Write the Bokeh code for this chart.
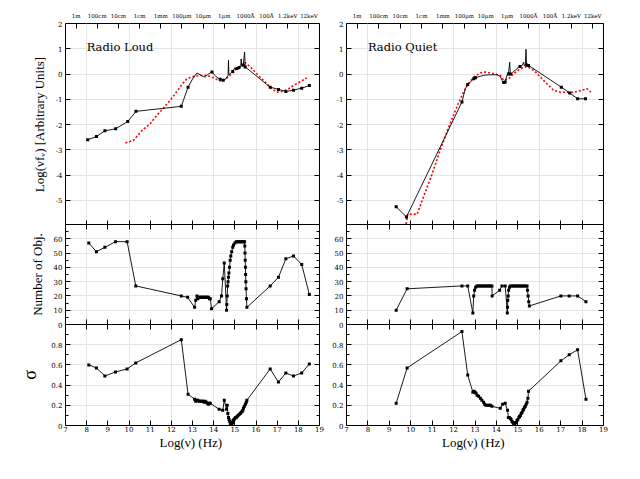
from bokeh.plotting import figure
from bokeh.layouts import row, column
from bokeh.models import LinearAxis, FixedTicker, Range1d, Label, CustomJSTickFormatter
from bokeh.embed import file_html
from bokeh.resources import INLINE

# ---------------- data ----------------
# Radio Loud SED (black, mean) and template (red dotted)
rl_sed_x = [8.05, 8.46, 8.86, 9.37, 9.94, 10.33, 12.47, 12.79, 13.00, 13.21, 13.41, 13.50, 13.60, 13.75,
            13.92, 14.10, 14.31, 14.45, 14.55, 14.68, 14.70, 14.72, 14.78, 14.90, 15.00, 15.02, 15.10, 15.20,
            15.28, 15.30, 15.33, 15.40, 15.46, 15.49, 16.67, 17.06, 17.41, 17.77, 18.16, 18.52]
rl_sed_y = [-2.60, -2.48, -2.25, -2.17, -1.88, -1.48, -1.28, -0.52, -0.20, 0.04, -0.05, -0.10, -0.12, 0.00,
            0.08, -0.10, -0.21, -0.25, -0.22, -0.05, 0.54, -0.02, 0.01, 0.10, 0.25, 0.18, 0.22, 0.26,
            0.30, 0.60, 0.30, 0.35, 0.87, 0.28, -0.52, -0.61, -0.69, -0.64, -0.56, -0.46]
rl_sed_mk = [8.05, 8.46, 8.86, 9.37, 9.94, 10.33, 12.47, 12.79, 13.92, 14.31, 14.45, 14.90, 15.10, 15.20,
             15.40, 15.49, 16.67, 17.06, 17.41, 17.77, 18.16, 18.52]
rl_tpl_x = [9.83, 10.22, 10.60, 11.00, 11.30, 11.64, 12.00, 12.30, 12.50, 12.70, 12.86, 13.13, 13.40, 13.68,
            13.99, 14.20, 14.39, 14.60, 14.78, 15.10, 15.35, 15.49, 15.70, 15.88, 16.10, 16.35, 16.70, 16.98,
            17.30, 17.55, 17.77, 18.10, 18.40]
rl_tpl_y = [-2.73, -2.62, -2.25, -1.97, -1.65, -1.34, -0.98, -0.65, -0.41, -0.22, -0.15, -0.08, -0.06, -0.05,
            -0.15, -0.24, -0.28, -0.17, -0.05, 0.21, 0.40, 0.45, 0.30, 0.15, -0.05, -0.25, -0.55, -0.72,
            -0.68, -0.58, -0.45, -0.30, -0.16]

# Radio Quiet SED
rq_sed_x = [9.32, 9.80, 12.39, 12.55, 12.66, 12.80, 12.94, 13.02, 13.25, 13.40, 13.72, 14.03, 14.18, 14.26,
            14.34, 14.41, 14.49, 14.56, 14.62, 14.65, 14.73, 14.80, 14.96, 15.03, 15.10, 15.20, 15.27, 15.30,
            15.35, 15.38, 15.41, 15.50, 17.03, 17.42, 17.79, 18.16]
rq_sed_y = [-5.26, -5.66, -1.11, -0.58, -0.42, -0.30, -0.19, -0.15, -0.09, -0.05, -0.03, -0.03, -0.10, -0.25,
            -0.34, -0.32, -0.05, 0.00, 0.47, 0.00, 0.02, 0.10, 0.20, 0.28, 0.30, 0.33, 0.47, 0.33,
            0.36, 0.98, 0.36, 0.34, -0.52, -0.75, -0.98, -0.98]
rq_sed_mk = [9.32, 9.80, 12.39, 12.66, 12.94, 13.02, 14.34, 14.41, 14.56, 14.65, 15.10, 15.41, 15.50,
             17.03, 17.42, 17.79, 18.16]
rq_tpl_x = [9.75, 9.86, 10.30, 10.60, 11.00, 11.38, 11.80, 12.20, 12.45, 12.63, 12.94, 13.25, 13.48, 13.87,
            14.18, 14.34, 14.57, 14.80, 15.11, 15.43, 15.74, 16.20, 16.67, 16.98, 17.60, 17.99, 18.22, 18.41]
rq_tpl_y = [-6.10, -5.55, -5.55, -4.85, -3.95, -3.00, -2.05, -1.20, -0.75, -0.45, -0.12, 0.04, 0.08, 0.01,
            -0.05, -0.25, -0.19, 0.01, 0.21, 0.30, 0.15, -0.25, -0.65, -0.72, -0.72, -0.65, -0.58, -0.72]

# Number of objects
rl_n_x = [8.10, 8.46, 8.86, 9.36, 9.91, 10.32, 12.47, 12.77, 13.10, 13.15, 13.21, 13.25, 13.30, 13.35, 13.40,
          13.45, 13.50, 13.55, 13.60, 13.65, 13.70, 13.75, 13.80, 13.84, 13.90, 14.26, 14.37, 14.43, 14.50,
          14.61, 14.62, 14.64, 14.66, 14.68, 14.70, 14.72, 14.75, 14.78, 14.81, 14.85, 14.90, 14.94, 15.00,
          15.07, 15.12, 15.17, 15.22, 15.27, 15.32, 15.37, 15.42, 15.46, 15.47, 15.48, 15.49, 15.50, 15.51,
          15.52, 15.53, 15.55, 15.57, 16.67, 17.06, 17.41, 17.77, 18.16, 18.52]
rl_n_y = [57, 51, 54, 58, 58, 27, 20, 19, 12, 17, 20, 18, 19, 19, 19,
          19, 19, 19, 19, 19, 19, 19, 18, 18, 11, 16, 20, 32, 43,
          10, 14, 20, 27, 30, 33, 36, 40, 45, 48, 51, 54, 55.6, 57,
          58, 58, 58, 58, 58, 58, 58, 58, 58, 55, 50, 45, 40, 35,
          30, 25, 18, 12, 27, 33, 46, 48, 42, 21]
rq_n_x = [9.32, 9.83, 12.39, 12.66, 12.90, 12.94, 12.98, 13.03, 13.09, 13.16, 13.23, 13.30, 13.37, 13.44, 13.51,
          13.58, 13.65, 13.72, 13.79, 13.80, 14.15, 14.26, 14.41, 14.51, 14.52, 14.53, 14.55, 14.57, 14.61,
          14.65, 14.72, 14.79, 14.86, 14.93, 15.00, 15.07, 15.14, 15.21, 15.28, 15.35, 15.43, 15.45, 15.48,
          15.51, 15.54, 17.01, 17.40, 17.79, 18.18]
rq_n_y = [10, 25, 27, 27, 8, 20, 24, 26, 27, 27, 27, 27, 27, 27, 27,
          27, 27, 27, 27, 20, 24, 27, 27, 8, 12, 17, 20, 24, 26,
          27, 27, 27, 27, 27, 27, 27, 27, 27, 27, 27, 27, 24, 20,
          16, 13, 20, 20, 20, 16]

# Dispersion sigma
rl_s_x = [8.10, 8.46, 8.86, 9.36, 9.91, 10.32, 12.47, 12.79, 13.10, 13.15, 13.20, 13.25, 13.30, 13.35, 13.40,
          13.45, 13.50, 13.55, 13.60, 13.65, 13.70, 13.75, 13.80, 13.84, 14.26, 14.43, 14.50, 14.61, 14.64,
          14.67, 14.70, 14.73, 14.76, 14.79, 14.82, 14.84, 14.86, 14.89, 14.92, 14.96, 15.00, 15.04, 15.07,
          15.11, 15.15, 15.20, 15.26, 15.30, 15.35, 15.38, 15.41, 15.45, 15.50, 15.54, 15.57,
          16.67, 17.06, 17.41, 17.77, 18.16, 18.52]
rl_s_y = [0.60, 0.57, 0.49, 0.53, 0.56, 0.62, 0.85, 0.31, 0.26, 0.24, 0.25, 0.25, 0.24, 0.24, 0.24,
          0.24, 0.24, 0.23, 0.24, 0.23, 0.22, 0.21, 0.22, 0.22, 0.16, 0.15, 0.25, 0.16, 0.20,
          0.12, 0.08, 0.06, 0.04, 0.02, 0.01, 0.02, 0.00, 0.03, 0.05, 0.06, 0.07, 0.08, 0.08,
          0.09, 0.10, 0.11, 0.12, 0.13, 0.14, 0.15, 0.17, 0.19, 0.21, 0.23, 0.25,
          0.56, 0.43, 0.52, 0.49, 0.52, 0.61]
rq_s_x = [9.32, 9.83, 12.39, 12.66, 12.90, 12.95, 13.00, 13.05, 13.10, 13.17, 13.25, 13.32, 13.40, 13.45, 13.51,
          13.58, 13.65, 13.72, 13.79, 14.18, 14.29, 14.41, 14.52, 14.56, 14.60, 14.65, 14.69, 14.73, 14.77,
          14.81, 14.84, 14.86, 14.90, 14.96, 15.00, 15.05, 15.08, 15.12, 15.16, 15.20, 15.24, 15.27, 15.31,
          15.35, 15.39, 15.43, 15.47, 15.50, 17.01, 17.40, 17.79, 18.18]
rq_s_y = [0.22, 0.57, 0.93, 0.50, 0.33, 0.34, 0.33, 0.32, 0.30, 0.29, 0.27, 0.25, 0.23, 0.21, 0.20,
          0.20, 0.20, 0.20, 0.19, 0.17, 0.21, 0.22, 0.15, 0.08, 0.08, 0.07, 0.06, 0.04, 0.03,
          0.02, 0.01, 0.00, 0.03, 0.05, 0.06, 0.08, 0.09, 0.10, 0.12, 0.13, 0.15, 0.16, 0.18,
          0.19, 0.21, 0.23, 0.27, 0.34, 0.64, 0.70, 0.75, 0.26]

x_ticks = list(range(7, 20))
top_ticks = [7.5, 8.5, 9.5, 10.5, 11.5, 12.5, 13.5, 14.5, 15.5, 16.5, 17.5, 18.5]
top_labels = ["1m", "100cm", "10cm", "1cm", "1mm", "100\u03bcm", "10\u03bcm", "1\u03bcm",
              "1000\u00c5", "100\u00c5", "1.2keV", "12keV"]
sed_ticks = [-5, -4, -3, -2, -1, 0, 1, 2]
n_ticks = [0, 10, 20, 30, 40, 50, 60]
n_minor = [5, 15, 25, 35, 45, 55, 65]
s_ticks = [0, 0.2, 0.4, 0.6, 0.8]
s_minor = [0.1, 0.3, 0.5, 0.7, 0.9]

# ---------------- styling helpers ----------------
FONT = "DejaVu Serif"
LFONT = "Liberation Serif"
EMPTY = CustomJSTickFormatter(code="return ''")


def base_axis(ax, ticks, minor=None, labels=True):
    ax.ticker = FixedTicker(ticks=ticks, minor_ticks=minor or [])
    ax.major_tick_in = 5
    ax.major_tick_out = 0
    ax.minor_tick_in = 3
    ax.minor_tick_out = 0
    ax.axis_line_color = None
    ax.major_tick_line_color = "black"
    ax.minor_tick_line_color = "black"
    ax.major_label_text_font = FONT
    ax.major_label_text_color = "black"
    ax.axis_label_text_font = LFONT
    ax.axis_label_text_font_style = "normal"
    ax.axis_label_text_color = "black"
    if labels:
        ax.major_label_text_font_size = "7px"
        ax.major_label_standoff = 3
    else:
        ax.formatter = EMPTY
        ax.major_label_text_font_size = "0px"
        ax.major_label_standoff = 0


def make_fig(yr, fw, fh, bl, br, bt, bb):
    p = figure(x_range=Range1d(7, 19), y_range=Range1d(*yr), frame_width=fw, frame_height=fh,
               min_border_left=bl, min_border_right=br, min_border_top=bt, min_border_bottom=bb,
               x_axis_location=None, y_axis_location=None,
               output_backend="svg", toolbar_location=None)
    p.outline_line_color = "black"
    p.outline_line_width = 1
    p.outline_line_alpha = 1
    p.background_fill_color = "white"
    p.border_fill_color = "white"
    return p


def add_axes(p, side_ticks_left, left_minor, left_labels, left_fmt, ylabel, top_mode, bottom_labels):
    la = LinearAxis()
    base_axis(la, side_ticks_left, left_minor, left_labels)
    if left_fmt is not None:
        la.formatter = left_fmt
    if ylabel:
        la.axis_label = ylabel[0]
        la.axis_label_text_font_size = ylabel[1]
        la.axis_label_standoff = ylabel[2]
    p.add_layout(la, "left")
    ra = LinearAxis()
    base_axis(ra, side_ticks_left, left_minor, False)
    p.add_layout(ra, "right")
    ta = LinearAxis()
    if top_mode == "labels":
        base_axis(ta, top_ticks, None, True)
        ta.formatter = CustomJSTickFormatter(args=dict(t=top_ticks, l=top_labels), code="""
            const i = t.findIndex(v => Math.abs(v - tick) < 1e-6);
            return i >= 0 ? l[i] : '';""")
        ta.major_label_text_font_size = "5.5px"
        ta.major_label_standoff = 5
    else:
        base_axis(ta, x_ticks, None, False)
    p.add_layout(ta, "above")
    ba = LinearAxis()
    base_axis(ba, x_ticks, None, bottom_labels)
    if bottom_labels:
        ba.major_label_standoff = 0
        ba.axis_label = "Log(\u03bd)  (Hz)"
        ba.axis_label_text_font_size = "13px"
        ba.axis_label_standoff = 0
    p.add_layout(ba, "below")


def sed_panel(p, sx, sy, mk, tx, ty, title):
    p.line(tx, ty, line_color="red", line_width=1.6, line_dash="2 2")
    p.line(sx, sy, line_color="black", line_width=0.9)
    mx = [x for x in sx if x in mk]
    my = [y for x, y in zip(sx, sy) if x in mk]
    p.scatter(mx, my, marker="square", size=3, fill_color="black", line_color=None)
    p.add_layout(Label(x=8.0, y=0.8, text=title, text_font=FONT, text_font_size="11.5px",
                       text_color="black", text_baseline="bottom"))


def curve_panel(p, x, y):
    p.line(x, y, line_color="black", line_width=0.9)
    p.scatter(x, y, marker="square", size=3, fill_color="black", line_color=None)


sig_fmt = CustomJSTickFormatter(code="return tick == 0 ? '0' : tick.toFixed(1);")
int_fmt = CustomJSTickFormatter(code="return Math.round(tick).toString();")

# column geometry (left border, frame width, right border)
LW = (65, 254, 10)
RW = (17, 257, 20)

figs = []
for (bl, fw, br), sx, sy, mk, tx, ty, title, nx, ny, sgx, sgy, first in [
        (LW, rl_sed_x, rl_sed_y, rl_sed_mk, rl_tpl_x, rl_tpl_y, "Radio Loud", rl_n_x, rl_n_y, rl_s_x, rl_s_y, True),
        (RW, rq_sed_x, rq_sed_y, rq_sed_mk, rq_tpl_x, rq_tpl_y, "Radio Quiet", rq_n_x, rq_n_y, rq_s_x, rq_s_y, False)]:
    top = make_fig((-6, 2), fw, 202, bl, br, 23, 0)
    top.margin = (0, 0, -1, 0)
    add_axes(top, sed_ticks, None, True, int_fmt,
             ("Log(\u03bdf\u1d65) [Arbitrary Units]", "13px", 6) if first else None, "labels", False)
    sed_panel(top, sx, sy, mk, tx, ty, title)

    mid = make_fig((0, 70), fw, 100, bl, br, 0, 6)
    mid.margin = (0, 0, -6, 0)
    add_axes(mid, n_ticks, n_minor, True, int_fmt,
             ("Number of Obj.", "13px", 6) if first else None, "ticks", False)
    curve_panel(mid, nx, ny)

    bot = make_fig((0, 1), fw, 101, bl, br, 0, 35)
    bot.border_fill_alpha = 0
    bot.background_fill_alpha = 0
    add_axes(bot, s_ticks, s_minor, True, sig_fmt,
             ("\u03c3", "18px", 8) if first else None, "ticks", True)
    curve_panel(bot, sgx, sgy)
    figs.append(column(top, mid, bot))

layout = row(*figs)
open("out.html", "w").write(file_html(layout, INLINE))
